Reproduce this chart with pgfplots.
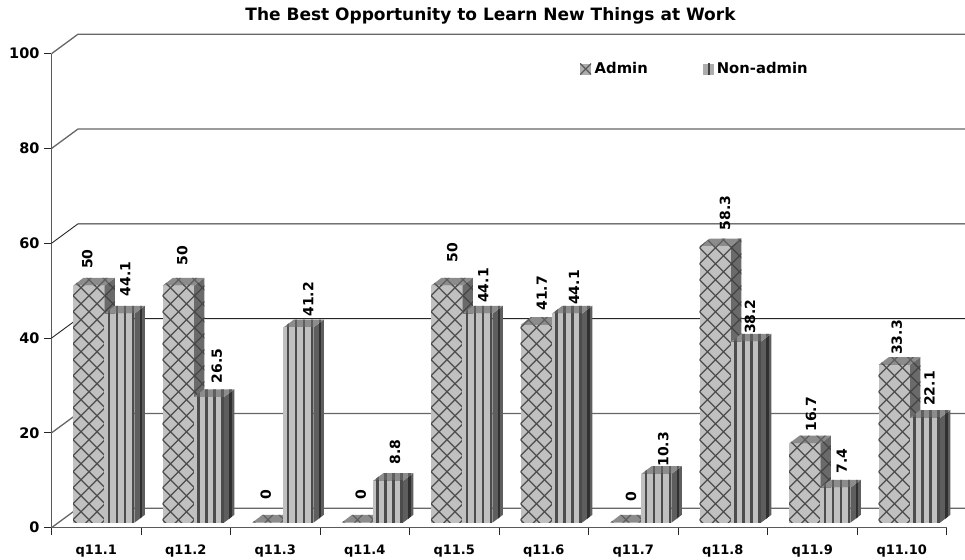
\documentclass[border=0pt]{standalone}
\usepackage{pgfplots}
\pgfplotsset{compat=1.18}
\usepackage{pgfplotstable}
\usepackage{fontspec}
\setmainfont{DejaVu Sans}
\pgfdeclareplotmark{empty}{}
\pgfplotstableread{
x adm non adx ady ndx ndy
0.5 50 44.1 -9 21.7 29 22
1.5 50 26.5 -3.4 25 31 18.8
2.5 0 41.2 -9.5 28.4 33 15.7
3.5 0 8.8 -4 28.4 30.2 21.7
4.5 50 44.1 -2 28.4 29 15.7
5.5 41.7 44.1 -2 19.3 30.2 13.7
6.5 0 10.3 -2.2 26 30 12
7.5 58.3 38.2 2.2 20.7 27.3 12.6
8.5 16.7 7.4 -1.2 16.8 29.4 19.3
9.5 33.3 22.1 -5 14.9 27.6 17
}\datatable
\def\phA{-3}\def\phB{3}\def\stripeoff{3.5}
% crosshatched face: #1 background, #2 line colour, #3 closed path
\newcommand\xface[3]{\path[fill=#1,draw=none] #3;
 \begin{scope}\path[clip,draw=none] #3;
 \foreach \xk in {-20,...,4}{
  \pgfmathsetmacro\xa{\barL+\phA+\xk*16-10}\pgfmathsetmacro\xb{\barL+\phA+\xk*16+320}
  \pgfmathsetmacro\ya{\bB-10}\pgfmathsetmacro\yb{\bB+320}
  \path[draw=#2,fill=none,line width=1.25pt] (\xa pt,\ya pt)--(\xb pt,\yb pt);}
 \foreach \xk in {-1,...,22}{
  \pgfmathsetmacro\xa{\barL+\phB+\xk*16+10}\pgfmathsetmacro\xb{\barL+\phB+\xk*16-320}
  \pgfmathsetmacro\ya{\bB-10}\pgfmathsetmacro\yb{\bB+320}
  \path[draw=#2,fill=none,line width=1.25pt] (\xa pt,\ya pt)--(\xb pt,\yb pt);}
 \end{scope}}
% striped face
\newcommand\vface[3]{\path[fill=#1,draw=none] #3;
 \begin{scope}\path[clip,draw=none] #3;
 \foreach \xk in {0,...,4}{
  \pgfmathsetmacro\xa{\barL+\stripeoff+\xk*8}\pgfmathsetmacro\xb{\xa+2.4}
  \pgfmathsetmacro\ya{\bB-10}\pgfmathsetmacro\yb{\bB+320}
  \path[fill=#2,draw=none] (\xa pt,\ya pt) rectangle (\xb pt,\yb pt);}
 \end{scope}}
% #1 face macro, #2 left, #3 right, #4 side bg, #5 side line
\newcommand\barcode[5]{%
 \def\barL{#2}%
 \pgfmathsetmacro\bT{5}\pgfmathsetmacro\bB{5-\val*4.74}%
 \pgfmathsetmacro\bTd{\bT+7.8}\pgfmathsetmacro\bBd{\bB+7.8}%
 \pgfmathsetmacro\bLd{#2+10.3}\pgfmathsetmacro\bRd{#3+10.3}%
 #1{#4}{#5}{(#3pt,\bT pt)--(\bRd pt,\bTd pt)--(\bRd pt,\bBd pt)--(#3pt,\bB pt)--cycle}%
 #1{c_top}{c_topl}{(#2pt,\bT pt)--(\bLd pt,\bTd pt)--(\bRd pt,\bTd pt)--(#3pt,\bT pt)--cycle}%
 #1{c_front}{c_line}{(#2pt,\bB pt)--(#3pt,\bB pt)--(#3pt,\bT pt)--(#2pt,\bT pt)--cycle}%
}
\definecolor{c_front}{HTML}{C0C0C0}
\definecolor{c_line}{HTML}{4C4C4C}
\definecolor{c_top}{HTML}{8C8C8C}
\definecolor{c_topl}{HTML}{5E5E5E}
\definecolor{c_sidea}{HTML}{6A6A6A}
\definecolor{c_sideal}{HTML}{444444}
\definecolor{c_siden}{HTML}{5E5E5E}
\definecolor{c_sidenl}{HTML}{303030}
\begin{document}
\begin{tikzpicture}[x=1pt,y=1pt]
\useasboundingbox (0,0) rectangle (965,559);
\begin{axis}[
 at={(51.5pt,31.3pt)},anchor=origin,
 scale only axis,width=895pt,height=474pt,
 xmin=0,xmax=10,ymin=0,ymax=100,clip=false,
 axis x line*=bottom,axis y line*=left,
 axis line style={-,draw=black!65,line width=1.3pt},
 xtick={0,...,10},x tick label as interval,
 xticklabels={q11.1,q11.2,q11.3,q11.4,q11.5,q11.6,q11.7,q11.8,q11.9,q11.10},
 ytick={0,20,...,100},
 tick align=outside,
 major tick length=7.5pt,
 tick style={draw=black!85,line width=0.8pt},
 /pgf/number format/assume math mode=true,
 xticklabel style={font=\fontsize{13}{13}\selectfont\bfseries,yshift=-6pt},
 yticklabel style={font=\fontsize{14.5}{14.5}\selectfont\bfseries,xshift=-1pt},
 title={The Best Opportunity to Learn New Things at Work},
 title style={font=\fontsize{17}{17}\selectfont\bfseries,at={(0.4905,1)},anchor=base,yshift=27.5pt},
 legend columns=2,
 legend style={at={(0.5905,0.9677)},anchor=west,draw=none,fill=none,inner sep=0pt,
   font=\fontsize{14.8}{14.8}\selectfont\bfseries,
   /tikz/every even column/.append style={column sep=53pt}},
]
\addplot[forget plot,draw=black!60,line width=1.3pt] coordinates {(0,100)(0.296,104.11)(10.3,104.11)};
\addplot[forget plot,draw=black!60,line width=1.3pt] coordinates {(0,80)(0.296,84.11)(10.3,84.11)};
\addplot[forget plot,draw=black!85,line width=0.9pt] coordinates {(0,60)(0.296,64.11)(10.3,64.11)};
\addplot[forget plot,draw=black!85,line width=0.9pt] coordinates {(0,40)(0.296,44.11)(10.3,44.11)};
\addplot[forget plot,draw=black!60,line width=1.3pt] coordinates {(0,20)(0.296,24.11)(10.3,24.11)};
\addplot[forget plot,draw=black!60,line width=1.3pt] coordinates {(0,0)(0.296,4.11)(10.3,4.11)};
\addplot[only marks,scatter,mark=empty,
 visualization depends on={rawy \as \val},
 scatter/@pre marker code/.code={\barcode{\xface}{-23.2}{8.2}{c_sidea}{c_sideal}},
 scatter/@post marker code/.code={},
 legend image code/.code={\def\barL{0}\def\bB{-5.5}\def\phA{0}\def\phB{11}\xface{black!32}{black!65}{(0pt,-5.5pt)--(11pt,-5.5pt)--(11pt,5.5pt)--(0pt,5.5pt)--cycle}},
] table[x=x,y=adm] {\datatable};
\addlegendentry{\hspace{1.5pt}Admin}
\addplot[only marks,scatter,mark=empty,
 visualization depends on={rawy \as \val},
 scatter/@pre marker code/.code={\barcode{\vface}{8.2}{38.2}{c_siden}{c_sidenl}},
 scatter/@post marker code/.code={},
 legend image code/.code={\def\barL{0}\def\bB{-5.5}\def\stripeoff{5}\vface{black!32}{black!75}{(0pt,-5.5pt)--(11pt,-5.5pt)--(11pt,5.5pt)--(0pt,5.5pt)--cycle}},
] table[x=x,y=non] {\datatable};
\addlegendentry{\hspace{1pt}Non-admin}
\addplot[forget plot,only marks,mark=none,point meta=explicit,nodes near coords,
 every node near coord/.style={rotate=90,anchor=west,inner sep=0pt,
  font=\fontsize{14}{14}\selectfont\bfseries,/pgf/number format/assume math mode=true}]
 table[x expr=\thisrow{x}+\thisrow{adx}/89.5,y expr=\thisrow{adm}+\thisrow{ady}/4.74,meta=adm] {\datatable};
\addplot[forget plot,only marks,mark=none,point meta=explicit,nodes near coords,
 every node near coord/.style={rotate=90,anchor=west,inner sep=0pt,
  font=\fontsize{14}{14}\selectfont\bfseries,/pgf/number format/assume math mode=true}]
 table[x expr=\thisrow{x}+\thisrow{ndx}/89.5,y expr=\thisrow{non}+\thisrow{ndy}/4.74,meta=non] {\datatable};
\end{axis}
\end{tikzpicture}
\end{document}
